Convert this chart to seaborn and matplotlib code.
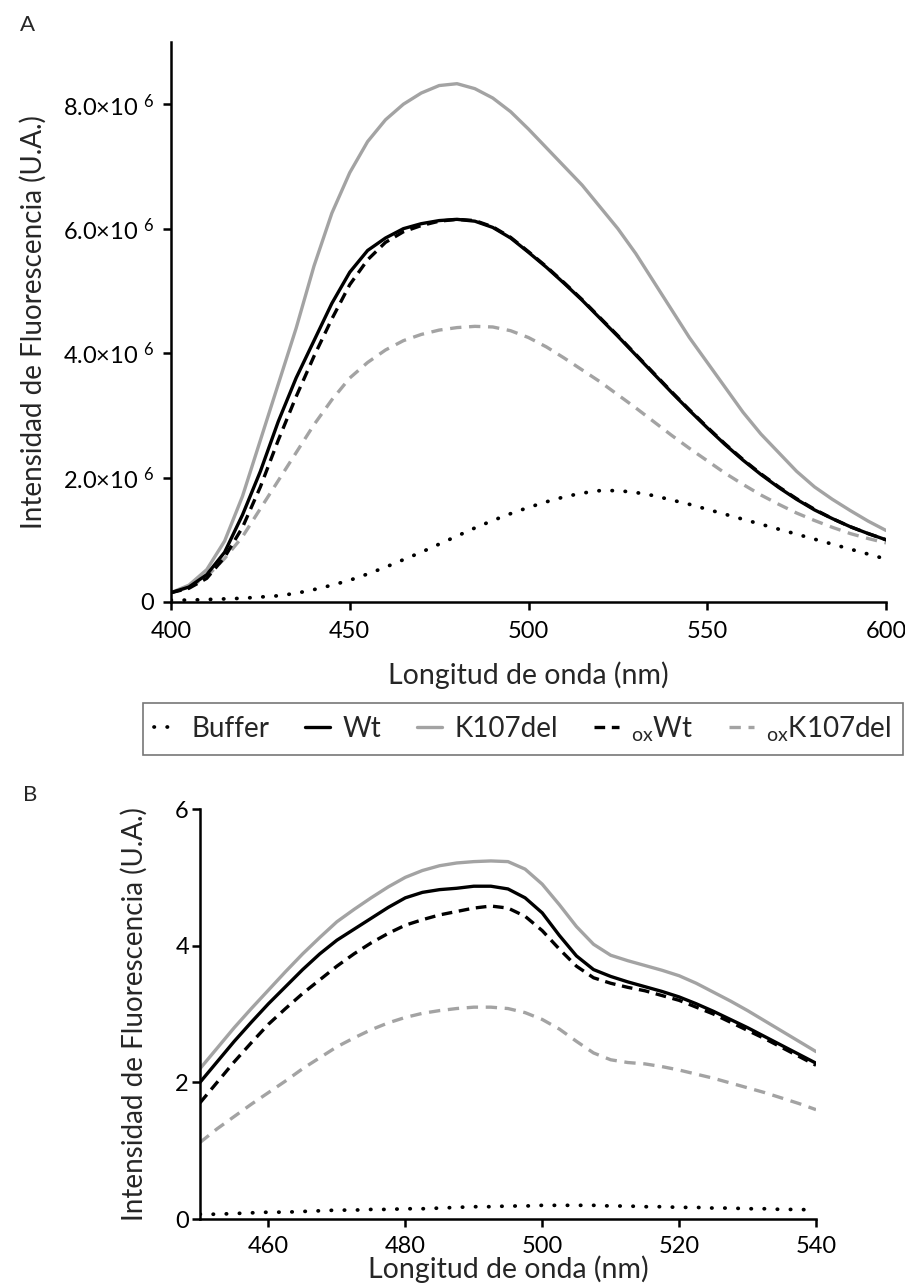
import numpy as np
import pandas as pd
import matplotlib
matplotlib.use("Agg")
import matplotlib.pyplot as plt
import seaborn as sns
from matplotlib.lines import Line2D

# ---------------- Panel A data (x10^6 U.A.) ----------------
wl_A = [400, 405, 410, 415, 420, 425, 430, 435, 440, 445, 450, 455, 460, 465, 470,
        475, 480, 485, 490, 495, 500, 505, 510, 515, 520, 525, 530, 535, 540, 545,
        550, 555, 560, 565, 570, 575, 580, 585, 590, 595, 600]
buffer_A = [0.03, 0.03, 0.04, 0.05, 0.06, 0.08, 0.10, 0.14, 0.20, 0.27, 0.35, 0.45, 0.56, 0.68, 0.80,
            0.93, 1.06, 1.19, 1.31, 1.42, 1.52, 1.61, 1.69, 1.75, 1.79, 1.79, 1.76, 1.71, 1.64, 1.57,
            1.49, 1.41, 1.33, 1.25, 1.17, 1.09, 1.01, 0.93, 0.85, 0.77, 0.69]
wt_A = [0.15, 0.24, 0.44, 0.80, 1.40, 2.10, 2.90, 3.60, 4.20, 4.80, 5.30, 5.65, 5.85, 6.00, 6.08,
        6.13, 6.15, 6.12, 6.02, 5.85, 5.62, 5.38, 5.12, 4.85, 4.56, 4.27, 3.97, 3.67, 3.37, 3.08,
        2.80, 2.53, 2.28, 2.05, 1.84, 1.65, 1.48, 1.34, 1.21, 1.10, 1.00]
k107_A = [0.15, 0.27, 0.52, 0.98, 1.70, 2.60, 3.50, 4.40, 5.40, 6.25, 6.90, 7.40, 7.75, 8.00, 8.18,
          8.30, 8.33, 8.25, 8.10, 7.88, 7.60, 7.30, 7.00, 6.70, 6.35, 6.00, 5.60, 5.15, 4.70, 4.25,
          3.85, 3.45, 3.05, 2.70, 2.40, 2.10, 1.85, 1.65, 1.47, 1.30, 1.15]
oxwt_A = [0.15, 0.22, 0.38, 0.72, 1.20, 1.85, 2.60, 3.30, 3.95, 4.55, 5.10, 5.50, 5.78, 5.95, 6.05,
          6.12, 6.15, 6.13, 6.03, 5.86, 5.63, 5.39, 5.13, 4.86, 4.57, 4.28, 3.98, 3.68, 3.38, 3.09,
          2.81, 2.54, 2.29, 2.06, 1.85, 1.66, 1.49, 1.34, 1.21, 1.10, 1.00]
oxk107_A = [0.15, 0.23, 0.41, 0.70, 1.05, 1.50, 1.95, 2.40, 2.85, 3.25, 3.60, 3.85, 4.05, 4.20, 4.30,
            4.37, 4.41, 4.43, 4.42, 4.36, 4.25, 4.10, 3.92, 3.73, 3.54, 3.33, 3.12, 2.90, 2.68, 2.47,
            2.27, 2.07, 1.89, 1.72, 1.57, 1.43, 1.31, 1.20, 1.10, 1.02, 0.95]

# ---------------- Panel B data ----------------
wl_B = [450, 452.5, 455, 457.5, 460, 462.5, 465, 467.5, 470, 472.5, 475, 477.5, 480, 482.5,
        485, 487.5, 490, 492.5, 495, 497.5, 500, 502.5, 505, 507.5, 510, 512.5, 515, 517.5,
        520, 522.5, 525, 527.5, 530, 532.5, 535, 537.5, 540]
buffer_B = [0.07, 0.07, 0.08, 0.09, 0.10, 0.10, 0.11, 0.12, 0.13, 0.13, 0.14, 0.14, 0.15, 0.15,
            0.16, 0.17, 0.18, 0.18, 0.19, 0.19, 0.20, 0.20, 0.20, 0.20, 0.19, 0.19, 0.18, 0.18,
            0.17, 0.17, 0.16, 0.16, 0.15, 0.15, 0.14, 0.14, 0.13]
wt_B = [2.00, 2.30, 2.60, 2.88, 3.15, 3.40, 3.65, 3.88, 4.08, 4.24, 4.40, 4.56, 4.70, 4.78,
        4.82, 4.84, 4.87, 4.87, 4.83, 4.70, 4.48, 4.15, 3.85, 3.65, 3.55, 3.47, 3.40, 3.33,
        3.25, 3.15, 3.04, 2.92, 2.80, 2.67, 2.54, 2.41, 2.28]
k107_B = [2.20, 2.50, 2.80, 3.08, 3.35, 3.62, 3.88, 4.12, 4.35, 4.53, 4.70, 4.86, 5.00, 5.10,
          5.17, 5.21, 5.23, 5.24, 5.23, 5.12, 4.90, 4.60, 4.28, 4.02, 3.86, 3.78, 3.71, 3.64,
          3.56, 3.45, 3.32, 3.19, 3.05, 2.90, 2.75, 2.60, 2.45]
oxwt_B = [1.70, 2.00, 2.30, 2.58, 2.85, 3.08, 3.30, 3.50, 3.70, 3.88, 4.04, 4.18, 4.30, 4.38,
          4.45, 4.50, 4.55, 4.58, 4.55, 4.43, 4.22, 3.95, 3.70, 3.53, 3.45, 3.39, 3.34, 3.27,
          3.20, 3.10, 3.00, 2.88, 2.76, 2.64, 2.51, 2.38, 2.25]
oxk107_B = [1.12, 1.32, 1.50, 1.68, 1.85, 2.02, 2.20, 2.36, 2.52, 2.65, 2.77, 2.87, 2.95, 3.01,
            3.05, 3.08, 3.10, 3.10, 3.08, 3.02, 2.92, 2.78, 2.60, 2.43, 2.33, 2.29, 2.27, 2.23,
            2.18, 2.12, 2.06, 1.99, 1.92, 1.85, 1.77, 1.69, 1.60]

yticks_A = [0, 2, 4, 6, 8]
ytick_labels_A = ["0", "2.0×10 $^{6}$", "4.0×10 $^{6}$", "6.0×10 $^{6}$", "8.0×10 $^{6}$"]
xticks_A = [400, 450, 500, 550, 600]
yticks_B = [0, 2, 4, 6]
xticks_B = [460, 480, 500, 520, 540]

series_names = ["Buffer", "Wt", "K107del", "oxWt", "oxK107del"]
legend_labels = ["Buffer", "Wt", "K107del", r"$_{\mathrm{ox}}$Wt", r"$_{\mathrm{ox}}$K107del"]

sns.set_theme(style="white")
FONT = "Lato"
plt.rcParams["font.family"] = [FONT, "DejaVu Sans"]
plt.rcParams["mathtext.fontset"] = "custom"
plt.rcParams["mathtext.rm"] = FONT
plt.rcParams["mathtext.it"] = FONT + ":italic"
plt.rcParams["mathtext.bf"] = FONT + ":bold"

GRAY = "#a3a3a3"
styles = {
    "Buffer": dict(color="black", linestyle=(0, (0.1, 3.4)), dash_capstyle="round", lw=2.7),
    "Wt": dict(color="black", linestyle="-", lw=2.4),
    "K107del": dict(color=GRAY, linestyle="-", lw=2.4),
    "oxWt": dict(color="black", linestyle=(0, (3.2, 2.0)), lw=2.4),
    "oxK107del": dict(color=GRAY, linestyle=(0, (3.4, 2.3)), lw=2.4),
}

dfA = pd.DataFrame({"wl": wl_A, "Buffer": buffer_A, "Wt": wt_A, "K107del": k107_A,
                    "oxWt": oxwt_A, "oxK107del": oxk107_A})
dfB = pd.DataFrame({"wl": wl_B, "Buffer": buffer_B, "Wt": wt_B, "K107del": k107_B,
                    "oxWt": oxwt_B, "oxK107del": oxk107_B})

fig = plt.figure(figsize=(9.05, 12.86), dpi=100)
W, H = 905, 1286
axA = fig.add_axes([171 / W, 1 - 602 / H, (886 - 171) / W, (602 - 42) / H])
axB = fig.add_axes([200 / W, 1 - 1219 / H, (816 - 200) / W, (1219 - 809) / H])

draw_order = ["Buffer", "oxK107del", "K107del", "Wt", "oxWt"]
for ax, df in [(axA, dfA), (axB, dfB)]:
    for name in draw_order:
        sns.lineplot(data=df, x="wl", y=name, ax=ax, legend=False, **styles[name])
    for side in ["top", "right"]:
        ax.spines[side].set_visible(False)
    for side in ["left", "bottom"]:
        ax.spines[side].set_color("black")
        ax.spines[side].set_linewidth(1.8)
    ax.tick_params(axis="both", which="both", direction="out", length=6, width=1.8,
                   colors="black", labelsize=17, left=True, bottom=True)
    ax.set_facecolor("white")
    ax.grid(False)

axA.tick_params(axis="x", pad=8)
axA.tick_params(axis="y", pad=6)
axB.tick_params(axis="x", pad=6)
axB.tick_params(axis="y", pad=2)

axA.set_xlim(400, 600)
axA.set_ylim(0, 9)
axA.set_xticks(xticks_A)
axA.set_yticks(yticks_A)
axA.set_yticklabels(ytick_labels_A)
axA.set_xlabel("Longitud de onda (nm)", fontsize=20.5, labelpad=14)
axA.set_ylabel("Intensidad de Fluorescencia (U.A.)", fontsize=20, labelpad=12)

axB.set_xlim(450, 540)
axB.set_ylim(0, 6)
axB.set_xticks(xticks_B)
axB.set_yticks(yticks_B)
axB.set_xlabel("Longitud de onda (nm)", fontsize=20.5, labelpad=-1)
axB.set_ylabel("Intensidad de Fluorescencia (U.A.)", fontsize=20, labelpad=20)

fig.text(27 / W, 1 - 25 / H, "A", fontsize=16, ha="center", va="center")
fig.text(30 / W, 1 - 795 / H, "B", fontsize=16, ha="center", va="center")

handles = [Line2D([0], [0], **styles[n]) for n in series_names]
leg = fig.legend(handles, legend_labels, loc="upper left", ncol=5,
                 bbox_to_anchor=(143 / W, 1 - 703 / H), bbox_transform=fig.transFigure,
                 frameon=True, fancybox=False, fontsize=20, handlelength=0.9,
                 handletextpad=0.45, columnspacing=1.28, borderpad=0.4, borderaxespad=0)
leg.get_frame().set_edgecolor("#555555")
leg.get_frame().set_linewidth(1.2)

fig.savefig("out.png", dpi=100, facecolor="white")
